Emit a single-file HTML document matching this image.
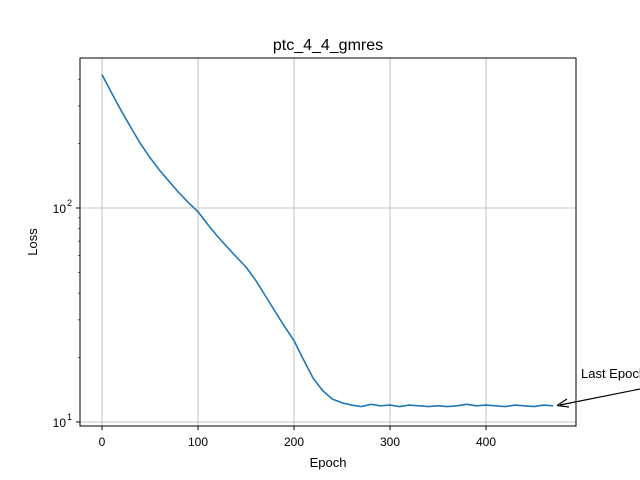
<!DOCTYPE html>
<html><head><meta charset="utf-8"><style>
html,body{margin:0;padding:0;background:#fff;}
svg{display:block;font-family:"Liberation Sans","DejaVu Sans",sans-serif;}
</style></head><body>
<svg id="chart" width="640" height="480" viewBox="0 0 640 480">
<rect x="0" y="0" width="640" height="480" fill="#fff"/>
<g id="grid"></g>
<g id="series"></g>
<rect x="80" y="58" width="496" height="368" fill="none" stroke="#000" stroke-width="1"/>
<g id="ticks"></g>
<text x="328" y="50" text-anchor="middle" font-size="16">ptc_4_4_gmres</text>
<text x="328" y="467" text-anchor="middle" font-size="13">Epoch</text>
<text x="37" y="242" text-anchor="middle" font-size="13" transform="rotate(-90 37 242)">Loss</text>
<text x="581" y="378" font-size="13">Last Epoch</text>
<line x1="640" y1="389" x2="560" y2="405" stroke="#000" stroke-width="1.2"/>
<path d="M557,405.5 L567,399 M557,405.5 L569,407" stroke="#000" stroke-width="1.2" fill="none"/>
</svg>
<script>
const epochs = [0,10,20,30,40,50,60,70,80,90,100,110,120,130,140,150,160,170,180,190,200,210,220,230,240,250,260,270,280,290,300,310,320,330,340,350,360,370,380,390,400,410,420,430,440,450,460,470];
const losses = [420,345,285,238,200,172,150,133,118,106,96,84,74,66,59,53,46,39,33,28,24,19.5,16,14,12.8,12.3,12.0,11.8,12.1,11.9,12.0,11.8,12.0,11.9,11.8,11.9,11.8,11.9,12.1,11.9,12.0,11.9,11.8,12.0,11.9,11.8,12.0,11.9];
const xTicks = [0,100,200,300,400];
const yTicks = [10,100];
const yTickLabels = ["10","10"];
const yTickExps = ["1","2"];

const X0=80,X1=576,Y0=58,Y1=426;
function xs(v){return 102+v*0.96;}
function ys(v){return 208-(Math.log10(v)-2)*214;}
const NS="http://www.w3.org/2000/svg";
const grid=document.getElementById('grid'),ticks=document.getElementById('ticks'),series=document.getElementById('series');
function mk(tag,attrs,parent){const e=document.createElementNS(NS,tag);for(const k in attrs)e.setAttribute(k,attrs[k]);parent.appendChild(e);return e;}
xTicks.forEach(t=>{
  const x=xs(t);
  const g=mk('line',{x1:x,y1:Y0,x2:x,y2:Y1,stroke:'#b0b0b0','stroke-width':0.8},grid);
  
  
  const tk=mk('line',{x1:x,y1:Y1,x2:x,y2:Y1+4,stroke:'#000'},ticks);
  
  
  const l=mk('text',{x:x,y:446,'text-anchor':'middle','font-size':12},ticks);
  l.textContent=t;
  
  
});
yTicks.forEach((t,i)=>{
  const y=ys(t);
  const g=mk('line',{x1:X0,y1:y,x2:X1,y2:y,stroke:'#b0b0b0','stroke-width':0.8},grid);
  
  
  const tk=mk('line',{x1:X0-4,y1:y,x2:X0,y2:y,stroke:'#000'},ticks);
  
  
  const l=mk('text',{x:66,y:y+5,'text-anchor':'end','font-size':12},ticks);
  l.textContent=yTickLabels[i];
  
  
  const e=mk('text',{x:67,y:y-2,'font-size':9},ticks);
  e.textContent=yTickExps[i];
  
  
});
[2,3,4,5,6,7,8,9,20,30,40,50,60,70,80,90,200,300,400].forEach(m=>{
  const y=ys(m); if(y<Y0||y>Y1) return;
  const tk=mk('line',{x1:X0-2,y1:y,x2:X0,y2:y,stroke:'#000','stroke-width':0.6},ticks);
  
  
});
const d=epochs.map((e,i)=>(i?'L':'M')+xs(e).toFixed(1)+','+ys(losses[i]).toFixed(1)).join(' ');
const p=mk('path',{d:d,fill:'none',stroke:'#1f77b4','stroke-width':1.6,'stroke-linejoin':'round'},series);


</script>
</body></html>
